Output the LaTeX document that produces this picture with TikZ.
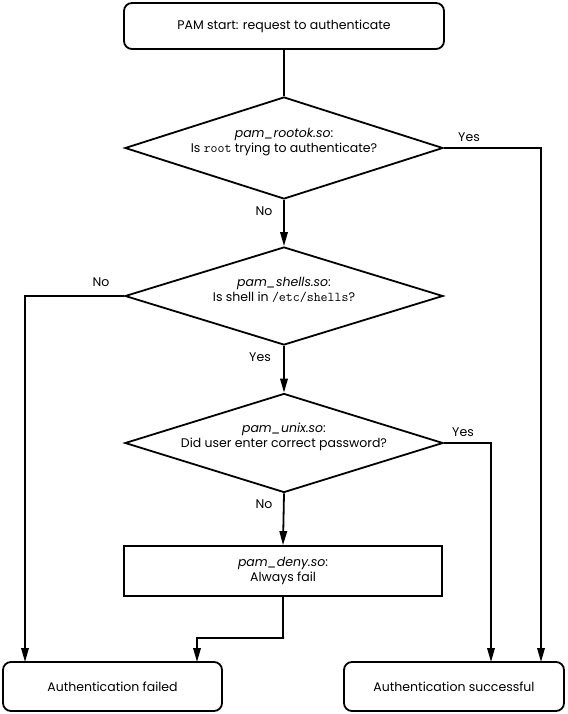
\documentclass[tikz,border=0pt]{standalone}
\usepackage{fontspec}
\setmainfont{Poppins}
\usetikzlibrary{shapes.geometric,arrows.meta}
\newcommand\monotxt[1]{{\fontsize{13.5}{15}\selectfont\ttfamily #1}}
\begin{document}
\begin{tikzpicture}[x=1pt,y=-1pt,
  every node/.style={font=\fontsize{12.5}{15}\selectfont},
  line/.style={line width=1.8pt},
  arr/.style={line, -{Triangle[width=7.5pt,length=14pt]}},
  term/.style={draw, line width=1.8pt, rounded corners=8pt, inner sep=0pt, align=center},
  dec/.style={draw, diamond, line width=1.8pt, inner sep=0pt, aspect=3.1},
  txt/.style={inner sep=0pt, align=center},
  lbl/.style={inner sep=0pt}
]
\useasboundingbox (0,0) rectangle (567,714);

\node[term, minimum width=320pt, minimum height=46pt] (start) at (284,26) {PAM start: request to authenticate};

\node[dec, minimum width=318pt, minimum height=102pt] (d1) at (284,148) {};
\node[txt] (t1) at (284,142) {\textit{pam\_rootok.so}:\\Is \monotxt{root} trying to authenticate?};

\node[dec, minimum width=318pt, minimum height=98pt] (d2) at (284,296) {};
\node[txt] (t2) at (284,290) {\textit{pam\_shells.so}:\\Is shell in \monotxt{/etc/shells}?};

\node[dec, minimum width=318pt, minimum height=99pt] (d3) at (284,443) {};
\node[txt] (t3) at (284,437) {\textit{pam\_unix.so}:\\Did user enter correct password?};

\node[draw, line width=1.8pt, minimum width=318pt, minimum height=50pt, inner sep=0pt, align=center] (deny) at (283,571) {\textit{pam\_deny.so}:\\Always fail};

\node[term, minimum width=219pt, minimum height=49pt] (fail) at (112.5,686.5) {Authentication failed};
\node[term, minimum width=220pt, minimum height=49pt] (succ) at (454,686.5) {Authentication successful};

\coordinate (e1) at (541,662);
\coordinate (e2) at (25,662);
\coordinate (e3) at (491,662);
\coordinate (k1) at (284,638);
\coordinate (e4) at (197,662);

\draw[line] (start.south) -- (d1.north);
\draw[arr] (d1.south) -- (d2.north);
\draw[arr] (d2.south) -- (d3.north);
\draw[arr] (d3.south) -- (deny.north);
\draw[arr] (d1.east) -| (e1);
\draw[arr] (d2.west) -| (e2);
\draw[arr] (d3.east) -| (e3);
\draw[arr] (deny.south) |- (k1) -| (e4);

\node[lbl] (y1) at (469,137) {Yes};
\node[lbl] (n1) at (264,211) {No};
\node[lbl] (n2) at (101,282) {No};
\node[lbl] (y2) at (260,357) {Yes};
\node[lbl] (y3) at (463,432) {Yes};
\node[lbl] (n3) at (264,504) {No};
\end{tikzpicture}
\end{document}
